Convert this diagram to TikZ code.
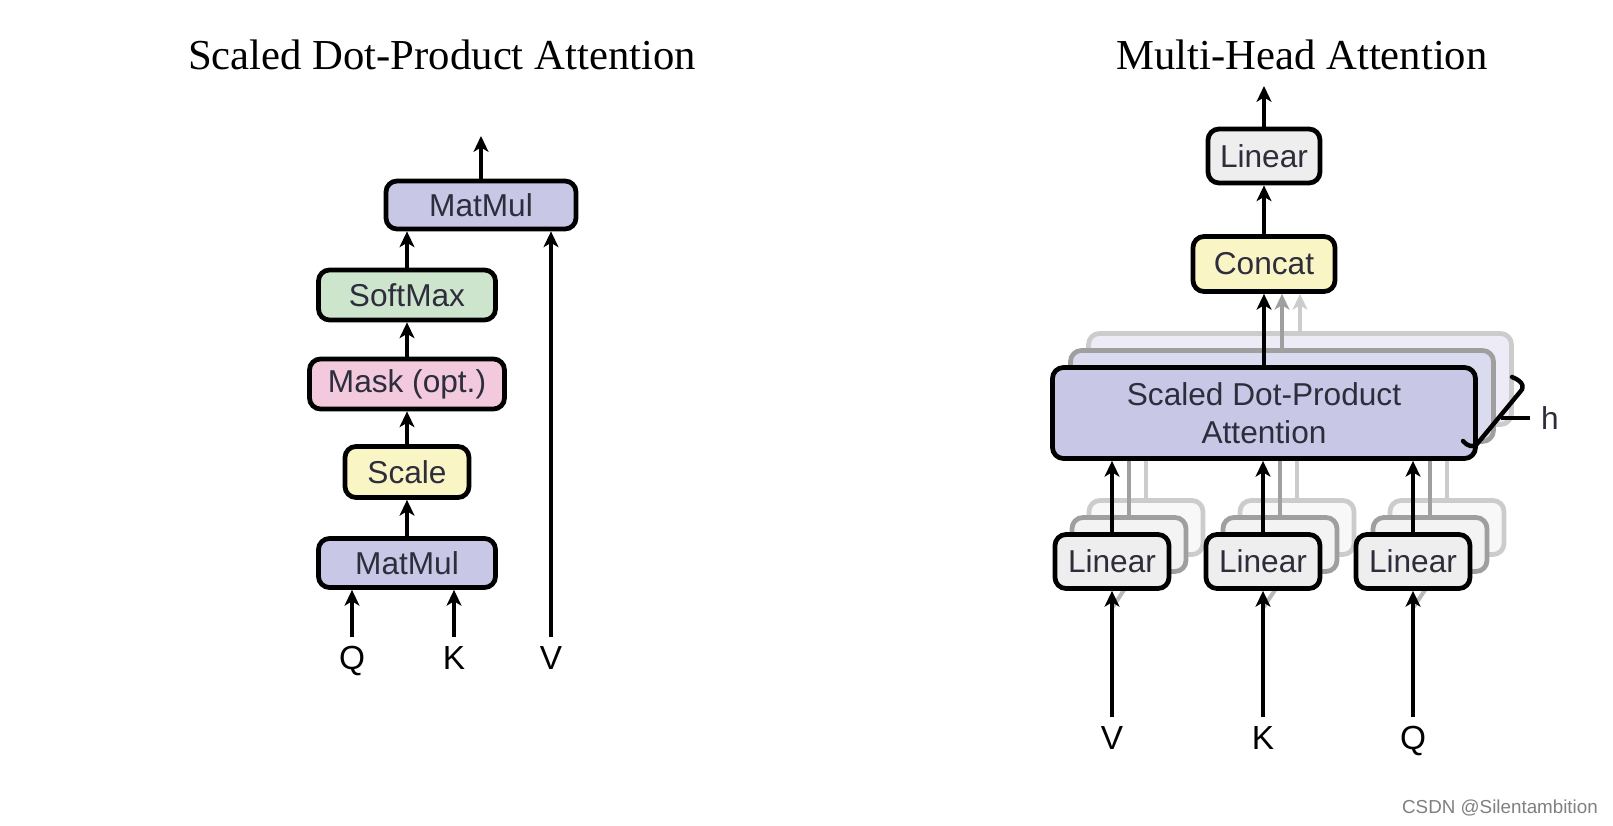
\documentclass[tikz,border=0pt]{standalone}
\usepackage{fontspec}
\setmainfont{Liberation Serif}
\setsansfont{Liberation Sans}
\usetikzlibrary{arrows.meta,calc}
\definecolor{matmulc}{RGB}{200,199,230}
\definecolor{softmaxc}{RGB}{206,229,205}
\definecolor{maskc}{RGB}{242,201,221}
\definecolor{scalec}{RGB}{249,245,196}
\definecolor{linearc}{RGB}{238,238,238}
\definecolor{textc}{RGB}{45,45,60}

\begin{document}
\begin{tikzpicture}[
    block/.style={rectangle, draw, rounded corners=0.22cm, line width=2.7pt, inner sep=0pt, align=center, text=textc, font=\fontsize{18}{21.6}\selectfont\sffamily},
    linbox/.style={block, fill=linearc, minimum width=2.28cm, minimum height=1.08cm},
    attbox/.style={block, minimum width=8.46cm, minimum height=1.82cm},
    arrow/.style={-{Stealth[length=9pt,width=8.5pt,inset=2.5pt]}, line width=2.3pt},
    letter/.style={font=\fontsize{19}{22}\selectfont\sffamily, anchor=base, inner sep=5pt},
    title/.style={font=\fontsize{24.3}{29}\selectfont, anchor=base}
]
\useasboundingbox (0,0) rectangle (32.26,-16.52);

% Left: Scaled Dot-Product Attention
\node[title] (ltitle) at (8.84,-1.40) {Scaled Dot-Product Attention};
\node[block, fill=matmulc, minimum width=3.80cm, minimum height=0.96cm] (matmul2) at (9.62,-4.10) {MatMul};
\node[block, fill=softmaxc, minimum width=3.54cm, minimum height=1.00cm] (softmax) at (8.14,-5.90) {SoftMax};
\node[block, fill=maskc, minimum width=3.90cm, minimum height=1.00cm] (mask) at (8.14,-7.68) {Mask (opt.)};
\node[block, fill=scalec, minimum width=2.48cm, minimum height=1.02cm] (scale) at (8.14,-9.44) {Scale};
\node[block, fill=matmulc, minimum width=3.54cm, minimum height=0.98cm] (matmul1) at (8.14,-11.26) {MatMul};
\node[letter] (q1) at (7.04,-13.38) {Q};
\node[letter] (k1) at (9.08,-13.38) {K};
\node[letter] (v1) at (11.02,-13.38) {V};
\coordinate (out1) at (9.62,-2.72);

\draw[arrow] (q1.north) -- (q1 |- matmul1.south);
\draw[arrow] (k1.north) -- (k1 |- matmul1.south);
\draw[arrow] (matmul1) -- (scale);
\draw[arrow] (scale) -- (mask);
\draw[arrow] (mask) -- (softmax);
\draw[arrow] (softmax) -- (softmax |- matmul2.south);
\draw[arrow] (v1.north) -- (v1 |- matmul2.south);
\draw[arrow] (matmul2) -- (out1);

% Right: Multi-Head Attention
\node[title] (rtitle) at (26.04,-1.40) {Multi-Head Attention};
\node[block, fill=linearc, minimum width=2.24cm, minimum height=1.08cm] (linout) at (25.28,-3.12) {Linear};
\node[block, fill=scalec, minimum width=2.84cm, minimum height=1.10cm] (concat) at (25.28,-5.28) {Concat};
\coordinate (out2) at (25.28,-1.72);

% h heads, back copies
\node[attbox, draw=gray!40, fill=matmulc!35] (att3) at (26.00,-7.58) {};
\node[attbox, draw=gray!75, fill=matmulc!65] (att2) at (25.64,-7.92) {};
\draw[arrow, gray!40] (att3.north) -- (att3.north |- concat.south);
\draw[arrow, gray!75] (att2.north) -- (att2.north |- concat.south);

\node[linbox, draw=gray!40, fill=linearc!40] (lin1c) at (22.92,-10.55) {};
\node[linbox, draw=gray!75, fill=linearc!70] (lin1b) at (22.58,-10.89) {};
\node[linbox, draw=gray!40, fill=linearc!40] (lin2c) at (25.94,-10.55) {};
\node[linbox, draw=gray!75, fill=linearc!70] (lin2b) at (25.60,-10.89) {};
\node[linbox, draw=gray!40, fill=linearc!40] (lin3c) at (28.94,-10.55) {};
\node[linbox, draw=gray!75, fill=linearc!70] (lin3b) at (28.60,-10.89) {};
\draw[line width=2.3pt, gray!40] (lin1c.north) -- (lin1c.north |- att3.south);
\draw[line width=2.3pt, gray!75] (lin1b.north) -- (lin1b.north |- att2.south);
\draw[line width=2.3pt, gray!40] (lin2c.north) -- (lin2c.north |- att3.south);
\draw[line width=2.3pt, gray!75] (lin2b.north) -- (lin2b.north |- att2.south);
\draw[line width=2.3pt, gray!40] (lin3c.north) -- (lin3c.north |- att3.south);
\draw[line width=2.3pt, gray!75] (lin3b.north) -- (lin3b.north |- att2.south);

% inputs
\node[letter] (vin) at (22.24,-14.98) {V};
\node[letter] (kin) at (25.26,-14.98) {K};
\node[letter] (qin) at (28.26,-14.98) {Q};
\draw[line width=2.3pt, gray!55] ($(vin.north)!0.7!(22.24,-11.23)$) -- (lin1c.south);
\draw[line width=2.3pt, gray!55] ($(kin.north)!0.7!(25.26,-11.23)$) -- (lin2c.south);
\draw[line width=2.3pt, gray!55] ($(qin.north)!0.7!(28.26,-11.23)$) -- (lin3c.south);

% front copies
\node[attbox, fill=matmulc] (att) at (25.28,-8.26) {Scaled Dot-Product\\Attention};
\node[linbox] (lin1) at (22.24,-11.23) {Linear};
\node[linbox] (lin2) at (25.26,-11.23) {Linear};
\node[linbox] (lin3) at (28.26,-11.23) {Linear};

\draw[arrow] (vin.north) -- (lin1);
\draw[arrow] (kin.north) -- (lin2);
\draw[arrow] (qin.north) -- (lin3);
\draw[arrow] (lin1) -- (lin1 |- att.south);
\draw[arrow] (lin2) -- (lin2 |- att.south);
\draw[arrow] (lin3) -- (lin3 |- att.south);
\draw[arrow] (att) -- (concat);
\draw[arrow] (concat) -- (linout);
\draw[arrow] (linout) -- (out2);

% h marker
\draw[line width=2.5pt, line cap=round] (30.24,-7.54) .. controls (30.50,-7.64) and (30.48,-7.78) .. (30.40,-7.84) -- (29.54,-8.88) .. controls (29.46,-8.96) and (29.34,-8.92) .. (29.26,-8.82);
\node[font=\fontsize{18}{21.6}\selectfont\sffamily, text=textc, inner sep=6pt] (hlab) at (31.00,-8.36) {h};
\coordinate (htick) at (30.02,-8.36);
\draw[line width=2.3pt] (hlab) -- (htick);

\node[font=\fontsize{10.7}{13}\selectfont\sffamily, text=black!50] (mark) at (30.00,-16.16) {CSDN @Silentambition};

\end{tikzpicture}
\end{document}
